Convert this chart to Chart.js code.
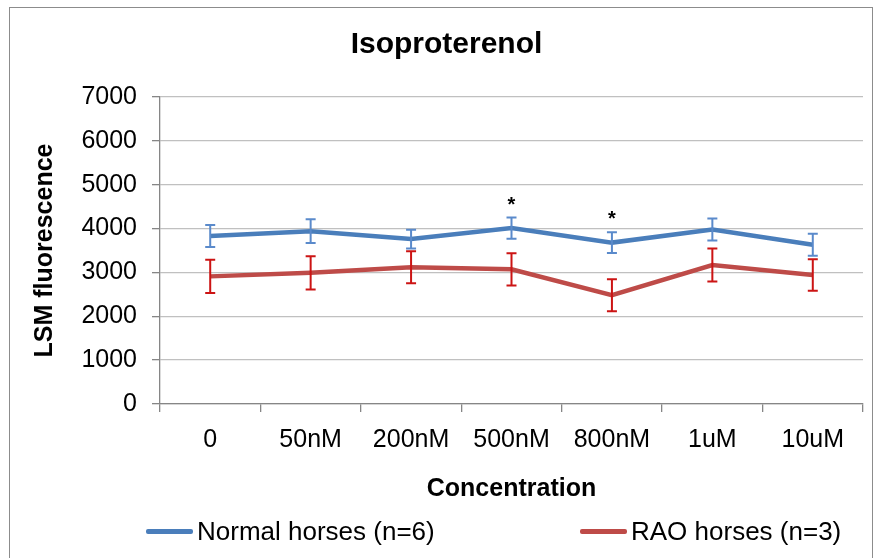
<!DOCTYPE html>
<html>
<head>
<meta charset="utf-8">
<title>Isoproterenol</title>
<script src="https://cdn.jsdelivr.net/npm/chart.js@4.4.1/dist/chart.umd.min.js"></script>
<style>
  html, body { margin: 0; padding: 0; background: #fff; overflow: hidden; }
  body { width: 875px; height: 558px; position: relative; font-family: 'Liberation Sans', Arial, sans-serif; }
  #frame { position: absolute; left: 9px; top: 7px; width: 862px; height: 600px; border: 1px solid #8c8c8c; }
  #chart { position: absolute; left: 0; top: 0; }
  .leg { position: absolute; top: 513px; height: 36px; display: flex; align-items: center; font-size: 26px; color: #000; white-space: nowrap; }
  .leg .swatch { display: inline-block; width: 47px; height: 5px; border-radius: 2px; margin-right: 4px; }
  #leg0 { left: 146px; }
  #leg1 { left: 580px; }
</style>
</head>
<body>
<div id="frame"></div>
<canvas id="chart" width="875" height="558"></canvas>
<div class="leg" id="leg0"></div>
<div class="leg" id="leg1"></div>
<script>
// ── Data ────────────────────────────────────────────────
const categories  = ['0', '50nM', '200nM', '500nM', '800nM', '1uM', '10uM'];
const normalMean  = [3830, 3940, 3760, 4010, 3680, 3980, 3630];
const normalErr   = [250, 270, 215, 240, 235, 250, 250];
const raoMean     = [2910, 2990, 3120, 3070, 2480, 3170, 2940];
const raoErr      = [380, 377, 365, 370, 365, 375, 360];
const significant = ['', '', '', '*', '*', '', ''];
const yMin = 0, yMax = 7000, yStep = 1000;

const seriesNames = ['Normal horses (n=6)', 'RAO horses (n=3)'];
const lineColors  = ['#4A7EBB', '#BE4B48'];
const errColors   = ['#5A8ACB', '#CC1414'];

const FONT = "'Liberation Sans', Arial, sans-serif";

// ── Error bars + significance stars ─────────────────────
const errorBars = {
    id: 'errorBars',
    afterDatasetsDraw(chart) {
        const { ctx, scales: { x, y } } = chart;
        chart.data.datasets.forEach(ds => {
            ctx.save();
            ctx.strokeStyle = ds.errorColor;
            ctx.lineWidth   = 2;
            ds.data.forEach((v, i) => {
                const px  = x.getPixelForValue(i);
                const top = y.getPixelForValue(v + ds.errors[i]);
                const bot = y.getPixelForValue(v - ds.errors[i]);
                ctx.beginPath();
                ctx.moveTo(px, top);     ctx.lineTo(px, bot);
                ctx.moveTo(px - 5, top); ctx.lineTo(px + 5, top);
                ctx.moveTo(px - 5, bot); ctx.lineTo(px + 5, bot);
                ctx.stroke();
            });
            ctx.restore();
        });

        // stars above the normal-horse error bars
        const ds = chart.data.datasets[0];
        ctx.save();
        ctx.fillStyle    = '#000';
        ctx.font         = 'bold 20px ' + FONT;
        ctx.textAlign    = 'center';
        ctx.textBaseline = 'alphabetic';
        significant.forEach((s, i) => {
            if (!s) return;
            const px  = x.getPixelForValue(i);
            const top = y.getPixelForValue(ds.data[i] + ds.errors[i]);
            ctx.fillText(s, px, top - 7);
        });
        ctx.restore();
    },
};

new Chart(document.getElementById('chart').getContext('2d'), {
    type: 'line',
    data: {
        labels: categories,
        datasets: [
            {
                label:       seriesNames[0],
                data:        normalMean,
                errors:      normalErr,
                errorColor:  errColors[0],
                borderColor: lineColors[0],
                borderWidth: 4.5,
                pointRadius: 0,
                tension:     0,
            },
            {
                label:       seriesNames[1],
                data:        raoMean,
                errors:      raoErr,
                errorColor:  errColors[1],
                borderColor: lineColors[1],
                borderWidth: 4.5,
                pointRadius: 0,
                tension:     0,
            },
        ],
    },
    options: {
        responsive: false,
        animation:  false,
        layout: { padding: { left: 30, right: 12, top: 3, bottom: 44 } },
        plugins: {
            legend:  { display: false },
            tooltip: { enabled: false },
            title: {
                display: true,
                text:    'Isoproterenol',
                color:   '#000',
                font:    { family: FONT, size: 30, weight: 'bold' },
                padding: { top: 24, bottom: 34 },
            },
        },
        scales: {
            x: {
                offset: true,
                grid: {
                    offset: true,
                    drawOnChartArea: false,
                    drawTicks: true,
                    tickLength: 8,
                    color: '#868686',
                    lineWidth: 1.3,
                },
                border: { color: '#868686', width: 1.3 },
                ticks: {
                    color: '#000',
                    padding: 13,
                    maxRotation: 0,
                    autoSkip: false,
                    font: { family: FONT, size: 25 },
                },
                title: {
                    display: true,
                    text:    'Concentration',
                    color:   '#000',
                    font:    { family: FONT, size: 25, weight: 'bold' },
                    padding: { top: 0, bottom: 10 },
                },
                afterFit: s => { s.height = 110; },
            },
            y: {
                min: yMin,
                max: yMax,
                grid: {
                    color: '#c0c0c0',
                    lineWidth: 1.3,
                    tickLength: 8,
                    tickColor: '#868686',
                },
                border: { color: '#868686', width: 1.3 },
                ticks: {
                    stepSize: yStep,
                    color: '#000',
                    padding: 15,
                    font: { family: FONT, size: 25 },
                    callback: v => String(v),
                },
                title: {
                    display: true,
                    text:    'LSM fluorescence',
                    color:   '#000',
                    font:    { family: FONT, size: 25, weight: 'bold' },
                    padding: { top: 0, bottom: 0 },
                },
                afterFit: s => { s.width = 130; },
            },
        },
    },
    plugins: [errorBars],
});

// ── Legend (HTML) ───────────────────────────────────────
seriesNames.forEach((name, i) => {
    const el = document.getElementById('leg' + i);
    const sw = document.createElement('span');
    sw.className = 'swatch';
    sw.style.background = lineColors[i];
    el.appendChild(sw);
    el.appendChild(document.createTextNode(name));
});
</script>
</body>
</html>
